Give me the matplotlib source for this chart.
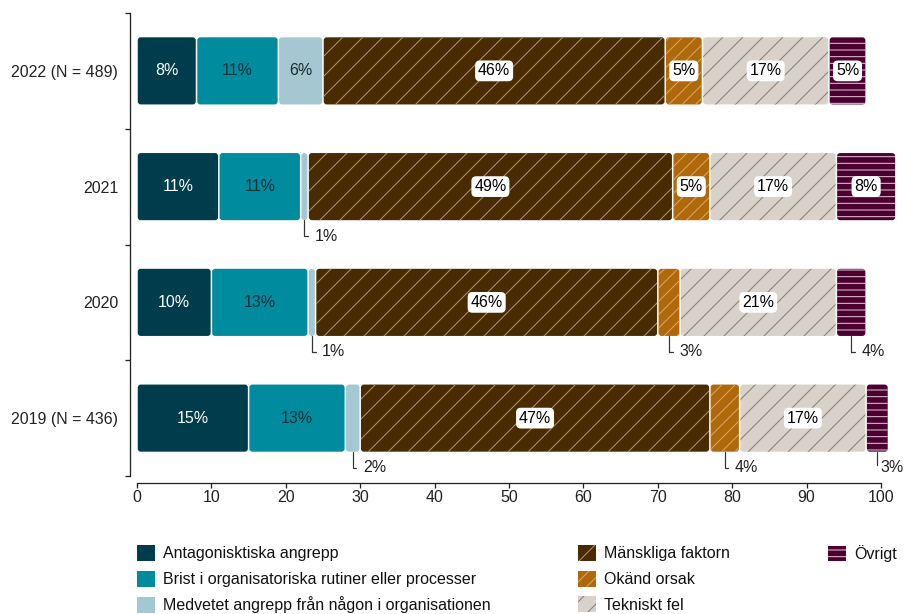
import matplotlib
matplotlib.use("Agg")
import matplotlib.pyplot as plt
from matplotlib.patches import FancyBboxPatch, Patch
from matplotlib.ticker import FixedLocator

plt.rcParams['font.family'] = ['Liberation Sans', 'DejaVu Sans']
plt.rcParams['hatch.linewidth'] = 0.6

# Incident causes per year, in percent
years = ["2022 (N = 489)", "2021", "2020", "2019 (N = 436)"]
causes = [
    "Antagonisktiska angrepp",
    "Brist i organisatoriska rutiner eller processer",
    "Medvetet angrepp från någon i organisationen",
    "Mänskliga faktorn",
    "Okänd orsak",
    "Tekniskt fel",
    "Övrigt",
]
antagonistiska = [8, 11, 10, 15]
brist = [11, 11, 13, 13]
medvetet = [6, 1, 1, 2]
manskliga = [46, 49, 46, 47]
okand = [5, 5, 3, 4]
tekniskt = [17, 17, 21, 17]
ovrigt = [5, 8, 4, 3]
series = [antagonistiska, brist, medvetet, manskliga, okand, tekniskt, ovrigt]
xticks = list(range(0, 101, 10))

# fill, hatch colour, hatch, label colour, label box
styles = [
    ("#003d4c", "#003d4c", None, "white", False),
    ("#008b9f", "#008b9f", None, "#0b2f36", False),
    ("#a4c7d2", "#a4c7d2", None, "#1e2a2e", False),
    ("#4a2b00", "#a8967c", "//", "black", True),
    ("#b0690a", "#dba565", "///", "black", True),
    ("#d8d2cb", "#8c7b68", "//", "black", True),
    ("#4b0030", "#e6c6d6", "---", "black", True),
]

DPI = 120
W, H = 906, 614
fig = plt.figure(figsize=(W / DPI, H / DPI), dpi=DPI)

# axes placed so that x=0 sits at 137 px and x=100 near 881 px
px_x = (881 - 137) / 100
x_max = 103
top_px, bot_px = 13, 476
ax = fig.add_axes([137 / W, (H - bot_px) / H, x_max * px_x / W, (bot_px - top_px) / H])
ax.set_xlim(0, x_max)
ax.set_ylim(len(years) - 0.5, -0.5)
px_y = (bot_px - top_px) / len(years)

bar_h = 0.58
gap = 0.75 / px_x
radius = 3 / px_x
aspect = px_x / px_y

def pt(px):
    return px * 72 / DPI

callouts = []
for i, year in enumerate(years):
    left = 0
    for vals, (fc, hc, hatch, tc, boxed) in zip(series, styles):
        v = vals[i]
        patch = FancyBboxPatch(
            (left + gap, i - bar_h / 2), v - 2 * gap, bar_h,
            boxstyle=f"round,pad=0,rounding_size={radius}",
            mutation_aspect=aspect,
            facecolor=fc, edgecolor=hc, hatch=hatch, linewidth=0,
        )
        ax.add_patch(patch)
        cx = left + v / 2
        text = f"{v}%"
        if v >= 5:
            bbox = dict(boxstyle="round,pad=0.18,rounding_size=0.3", fc="white", ec="none") if boxed else None
            ax.text(cx, i, text, ha="center", va="center", fontsize=9.6,
                    color=tc, bbox=bbox)
        else:
            ann = ax.annotate(
                text, xy=(cx, i + bar_h / 2), xytext=(10, -16),
                textcoords="offset pixels", ha="left", va="center",
                fontsize=9.6, color="#222222", annotation_clip=False,
                arrowprops=dict(arrowstyle="-", color="#333333", lw=pt(1.2),
                                connectionstyle="angle,angleA=180,angleB=90,rad=0",
                                relpos=(0, 0.5), shrinkA=pt(3), shrinkB=0),
            )
            callouts.append(ann)
        left += v

for side in ("top", "right"):
    ax.spines[side].set_visible(False)
for side in ("left", "bottom"):
    ax.spines[side].set_position(("outward", pt(7)))
    ax.spines[side].set_linewidth(pt(1.3))
    ax.spines[side].set_color("#222222")
ax.spines["bottom"].set_bounds(0, 100)

ax.set_xticks(xticks)
ax.tick_params(axis="x", length=pt(5), width=pt(1.3), pad=pt(2),
               labelsize=9.6, colors="#222222")
ax.set_yticks(range(len(years)))
ax.set_yticklabels(years)
ax.yaxis.set_minor_locator(FixedLocator([k - 0.5 for k in range(len(years) + 1)]))
ax.tick_params(axis="y", which="major", length=0, pad=pt(12),
               labelsize=9.6, colors="#222222")
ax.tick_params(axis="y", which="minor", length=pt(5), width=pt(1.3), color="#222222")

handles = [Patch(facecolor=fc, edgecolor=hc, hatch=hatch, linewidth=0)
           for fc, hc, hatch, _, _ in styles]
groups = [(0, 3, 137), (3, 6, 578), (6, 7, 828)]
for a, b, xpx in groups:
    fig.legend(
        handles[a:b], causes[a:b], loc="upper left",
        bbox_to_anchor=(xpx / W, 1 - 545 / H), frameon=False,
        borderpad=0, borderaxespad=0, fontsize=9.6,
        handlelength=1.15, handleheight=1.15, handletextpad=0.5,
        labelspacing=0.58, labelcolor="#111111",
    )

# pull callout texts back inside the figure if they run past the right edge
fig.canvas.draw()
renderer = fig.canvas.get_renderer()
for ann in callouts:
    ext = ann.get_window_extent(renderer)
    overflow = ext.x1 - (W - 2)
    if overflow > 0:
        dx, dy = ann.xyann
        ann.xyann = (dx - overflow, dy)

fig.savefig("out.png", dpi=DPI)
